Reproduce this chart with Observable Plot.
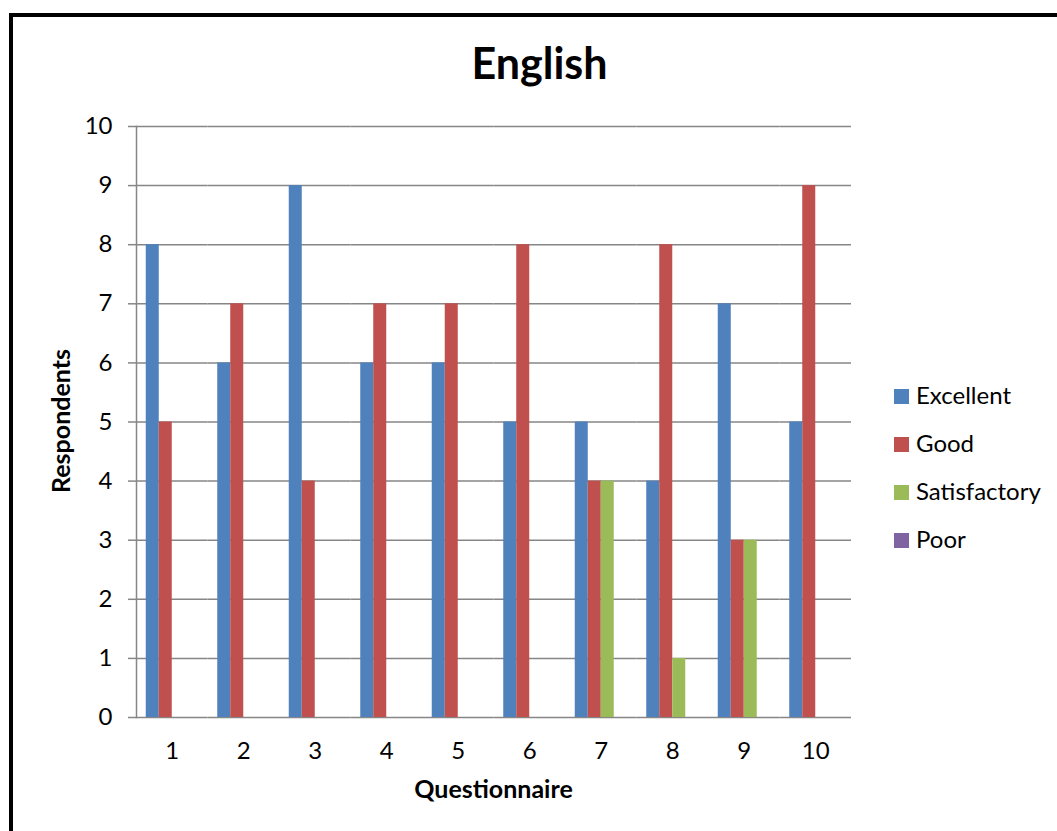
<!DOCTYPE html>
<html>
<head>
<meta charset="utf-8">
<script src="https://cdn.jsdelivr.net/npm/d3@7"></script>
<script src="https://cdn.jsdelivr.net/npm/@observablehq/plot@0.6"></script>
<style>
  body { margin: 0; background: #fff; font-family: Lato, "Open Sans", sans-serif; }
  #wrap { position: relative; width: 1057px; height: 831px; overflow: hidden; background: #fff; }
  #frame { position: absolute; left: 9px; top: 13px; width: 1200px; height: 1000px; border: 4px solid #000; box-sizing: border-box; }
  #chart { position: absolute; left: 0; top: 0; }
  #overlay { position: absolute; left: 0; top: 0; pointer-events: none; }
</style>
</head>
<body>
<div id="wrap">
  <div id="frame"></div>
  <div id="chart"></div>
  <svg id="overlay" width="1057" height="831"></svg>
</div>
<script>
// ---- data ----
const questions = [1, 2, 3, 4, 5, 6, 7, 8, 9, 10];
const series = ["Excellent", "Good", "Satisfactory", "Poor"];
const excellent = [8, 6, 9, 6, 6, 5, 5, 4, 7, 5];
const good = [5, 7, 4, 7, 7, 8, 4, 8, 3, 9];
const satisfactory = [0, 0, 0, 0, 0, 0, 4, 1, 3, 0];
const poor = [0, 0, 0, 0, 0, 0, 0, 0, 0, 0];
const colors = ["#4F81BD", "#C0504D", "#9BBB59", "#8064A2"];
const yTicks = [0, 1, 2, 3, 4, 5, 6, 7, 8, 9, 10];
const titleText = "English";
const xTitle = "Questionnaire";
const yTitle = "Respondents";

const valuesBySeries = [excellent, good, satisfactory, poor];
const table = questions.flatMap((q, i) =>
  series.map((s, j) => ({ q, s, v: valuesBySeries[j][i] }))
);

const gridColor = "#868686";

const chart = Plot.plot({
  width: 1057,
  height: 831,
  marginLeft: 136,
  marginRight: 206,
  marginTop: 126,
  marginBottom: 114,
  style: { fontFamily: "Lato, 'Open Sans', sans-serif", fontSize: "24px", color: "#000", background: "transparent", overflow: "visible" },
  fx: { domain: questions, padding: 0, round: false, label: null },
  x: { domain: series, paddingInner: 0, paddingOuter: 0.75, round: false, axis: null },
  y: { domain: [0, 10], label: null },
  color: { domain: series, range: colors },
  marks: [
    Plot.gridY(yTicks, { stroke: gridColor, strokeOpacity: 1, strokeWidth: 1.5 }),
    Plot.barY(table, { fx: "q", x: "s", y: "v", fill: "s", inset: 0 }),
    Plot.axisY(yTicks, { tickSize: 8, tickPadding: 16, stroke: gridColor, strokeWidth: 1.5, fill: "#000", fontSize: 24, label: null, tickFormat: d => String(d) }),
    Plot.axisFx({ anchor: "bottom", tickSize: 0, tickPadding: 24, fontSize: 24, fill: "#000", label: null }),
    Plot.frame({ anchor: "left", stroke: gridColor, strokeWidth: 1.5, facetAnchor: "left" })
  ]
});
document.getElementById("chart").appendChild(chart);

// ---- overlay texts & legend ----
const ov = d3.select("#overlay");
const ff = "Lato, 'Open Sans', sans-serif";
ov.append("text").attr("x", 539.5).attr("y", 79).attr("text-anchor", "middle")
  .attr("font-family", ff).attr("font-weight", "bold").attr("font-size", 43).attr("fill", "#000").text(titleText);
ov.append("text").attr("x", 493.5).attr("y", 798).attr("text-anchor", "middle")
  .attr("font-family", ff).attr("font-weight", "bold").attr("font-size", 25).attr("fill", "#000").text(xTitle);
ov.append("text").attr("transform", "translate(70,421) rotate(-90)").attr("text-anchor", "middle")
  .attr("font-family", ff).attr("font-weight", "bold").attr("font-size", 25).attr("fill", "#000").text(yTitle);

const lg = ov.append("g");
series.forEach((s, i) => {
  const by = 404 + i * 48;
  lg.append("rect").attr("x", 894).attr("y", by - 15).attr("width", 15).attr("height", 15).attr("fill", colors[i]);
  lg.append("text").attr("x", 916).attr("y", by).attr("font-family", ff).attr("font-size", 24).attr("fill", "#000").text(s);
});
</script>
</body>
</html>
